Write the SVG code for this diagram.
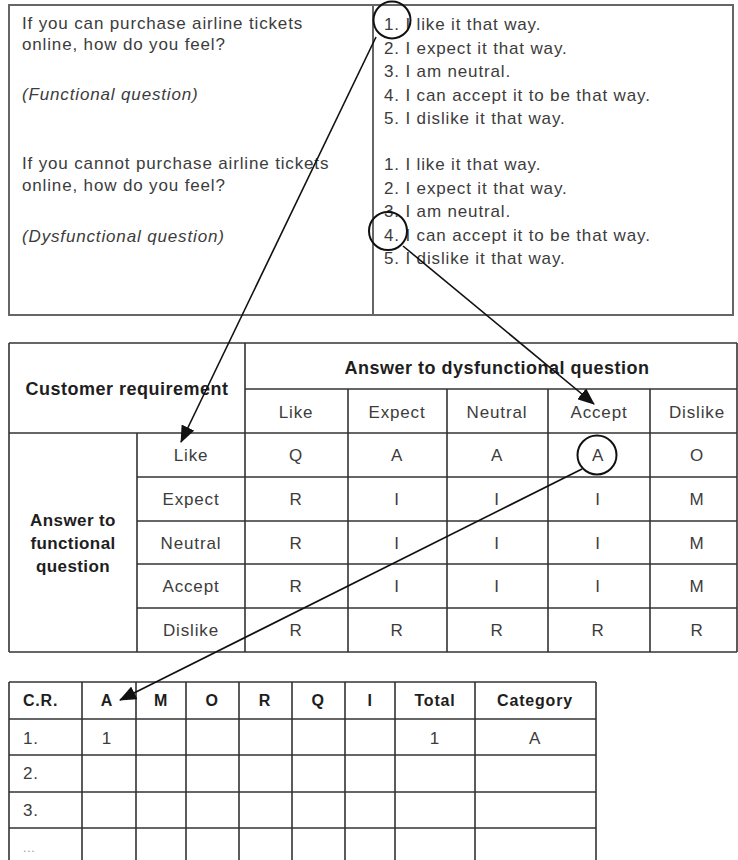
<svg xmlns="http://www.w3.org/2000/svg" width="738" height="860" viewBox="0 0 738 860">
<style>
text{font-family:"Liberation Sans",Arial,sans-serif}
.t{font-size:17px;fill:#3c3c3c;letter-spacing:0.85px}
.i{font-style:italic}
.b{font-size:18px;font-weight:bold;fill:#1e1e1e;letter-spacing:0.5px}
.b2{font-size:17px;font-weight:bold;fill:#1e1e1e;letter-spacing:0.4px}
.h{font-size:16px;font-weight:bold;fill:#1e1e1e;letter-spacing:0.8px}
.c{text-anchor:middle}
.g{fill:none;stroke:#333;stroke-width:1.6}
.box{fill:none;stroke:#666;stroke-width:2}
.ring{fill:none;stroke:#111;stroke-width:2}
.arr{fill:none;stroke:#111;stroke-width:1.6}
</style>
<defs>
<marker id="ah" markerUnits="userSpaceOnUse" markerWidth="17" markerHeight="14" viewBox="0 0 17 14" refX="16" refY="7" orient="auto">
<path d="M0,0 L17,7 L0,14 z" fill="#111"/>
</marker>
</defs>
<rect width="738" height="860" fill="#fff"/>

<g id="questions">
<rect class="box" x="9" y="5" width="724" height="310"/>
<line class="box" x1="373" y1="5" x2="373" y2="315"/>
<text class="t" x="22" y="29">If you can purchase airline tickets</text>
<text class="t" x="22" y="50">online, how do you feel?</text>
<text class="t i" x="22" y="100">(Functional question)</text>
<text class="t" x="22" y="169">If you cannot purchase airline tickets</text>
<text class="t" x="22" y="191">online, how do you feel?</text>
<text class="t i" x="22" y="242">(Dysfunctional question)</text>
<text class="t" x="384" y="30">1. I like it that way.</text>
<text class="t" x="384" y="54">2. I expect it that way.</text>
<text class="t" x="384" y="77">3. I am neutral.</text>
<text class="t" x="384" y="101">4. I can accept it to be that way.</text>
<text class="t" x="384" y="124">5. I dislike it that way.</text>
<text class="t" x="384" y="170">1. I like it that way.</text>
<text class="t" x="384" y="194">2. I expect it that way.</text>
<text class="t" x="384" y="217">3. I am neutral.</text>
<text class="t" x="384" y="241">4. I can accept it to be that way.</text>
<text class="t" x="384" y="264">5. I dislike it that way.</text>
<circle class="ring" cx="392" cy="20" r="18.5"/>
<circle class="ring" cx="388" cy="231" r="19"/>
</g>

<g id="evaluation-table">
<line class="g" x1="9" y1="343" x2="737" y2="343"/>
<line class="g" x1="9" y1="343" x2="9" y2="652"/>
<line class="g" x1="737" y1="343" x2="737" y2="652"/>
<line class="g" x1="9" y1="652" x2="737" y2="652"/>
<line class="g" x1="245" y1="343" x2="245" y2="652"/>
<line class="g" x1="245" y1="389" x2="737" y2="389"/>
<line class="g" x1="9" y1="433" x2="737" y2="433"/>
<line class="g" x1="137" y1="433" x2="137" y2="652"/>
<line class="g" x1="137" y1="477" x2="737" y2="477"/>
<line class="g" x1="137" y1="521" x2="737" y2="521"/>
<line class="g" x1="137" y1="564" x2="737" y2="564"/>
<line class="g" x1="137" y1="608" x2="737" y2="608"/>
<line class="g" x1="348" y1="389" x2="348" y2="652"/>
<line class="g" x1="447" y1="389" x2="447" y2="652"/>
<line class="g" x1="548" y1="389" x2="548" y2="652"/>
<line class="g" x1="650" y1="389" x2="650" y2="652"/>
<text class="b c" x="127" y="395">Customer requirement</text>
<text class="b c" x="497" y="374">Answer to dysfunctional question</text>
<text class="t c" x="296" y="418">Like</text>
<text class="t c" x="397" y="418">Expect</text>
<text class="t c" x="497" y="418">Neutral</text>
<text class="t c" x="599" y="418">Accept</text>
<text class="t c" x="697" y="418">Dislike</text>
<text class="b2 c" x="73" y="526">Answer to</text>
<text class="b2 c" x="73" y="549">functional</text>
<text class="b2 c" x="73" y="572">question</text>
<text class="t c" x="191" y="461">Like</text>
<text class="t c" x="191" y="505">Expect</text>
<text class="t c" x="191" y="549">Neutral</text>
<text class="t c" x="191" y="592">Accept</text>
<text class="t c" x="191" y="636">Dislike</text>
<text class="t c" x="296" y="461">Q</text><text class="t c" x="397" y="461">A</text><text class="t c" x="497" y="461">A</text><text class="t c" x="598" y="461">A</text><text class="t c" x="697" y="461">O</text>
<text class="t c" x="296" y="505">R</text><text class="t c" x="397" y="505">I</text><text class="t c" x="497" y="505">I</text><text class="t c" x="598" y="505">I</text><text class="t c" x="697" y="505">M</text>
<text class="t c" x="296" y="549">R</text><text class="t c" x="397" y="549">I</text><text class="t c" x="497" y="549">I</text><text class="t c" x="598" y="549">I</text><text class="t c" x="697" y="549">M</text>
<text class="t c" x="296" y="592">R</text><text class="t c" x="397" y="592">I</text><text class="t c" x="497" y="592">I</text><text class="t c" x="598" y="592">I</text><text class="t c" x="697" y="592">M</text>
<text class="t c" x="296" y="636">R</text><text class="t c" x="397" y="636">R</text><text class="t c" x="497" y="636">R</text><text class="t c" x="598" y="636">R</text><text class="t c" x="697" y="636">R</text>
<circle class="ring" cx="597" cy="455" r="19.5"/>
</g>

<g id="tally-table">
<line class="g" x1="9" y1="682" x2="596" y2="682"/>
<line class="g" x1="9" y1="719" x2="596" y2="719"/>
<line class="g" x1="9" y1="755" x2="596" y2="755"/>
<line class="g" x1="9" y1="792" x2="596" y2="792"/>
<line class="g" x1="9" y1="828" x2="596" y2="828"/>
<line class="g" x1="9" y1="682" x2="9" y2="860"/>
<line class="g" x1="82" y1="682" x2="82" y2="860"/>
<line class="g" x1="136" y1="682" x2="136" y2="860"/>
<line class="g" x1="186" y1="682" x2="186" y2="860"/>
<line class="g" x1="239" y1="682" x2="239" y2="860"/>
<line class="g" x1="292" y1="682" x2="292" y2="860"/>
<line class="g" x1="345" y1="682" x2="345" y2="860"/>
<line class="g" x1="395" y1="682" x2="395" y2="860"/>
<line class="g" x1="475" y1="682" x2="475" y2="860"/>
<line class="g" x1="596" y1="682" x2="596" y2="860"/>
<text class="h" x="23" y="706">C.R.</text>
<text class="h c" x="107" y="706">A</text>
<text class="h c" x="161" y="706">M</text>
<text class="h c" x="212" y="706">O</text>
<text class="h c" x="265" y="706">R</text>
<text class="h c" x="318" y="706">Q</text>
<text class="h c" x="370" y="706">I</text>
<text class="h c" x="435" y="706">Total</text>
<text class="h c" x="535" y="706">Category</text>
<text class="t" x="23" y="744">1.</text>
<text class="t c" x="107" y="744">1</text>
<text class="t c" x="435" y="744">1</text>
<text class="t c" x="535" y="744">A</text>
<text class="t" x="23" y="779">2.</text>
<text class="t" x="23" y="816">3.</text>
<text class="t" x="23" y="852" style="font-size:12px;fill:#999">...</text>
</g>

<g id="connectors">
<line class="arr" x1="376" y1="37" x2="181" y2="442" marker-end="url(#ah)"/>
<line class="arr" x1="403" y1="246" x2="594" y2="404" marker-end="url(#ah)"/>
<line class="arr" x1="582" y1="469" x2="120" y2="700" marker-end="url(#ah)"/>
</g>
</svg>
